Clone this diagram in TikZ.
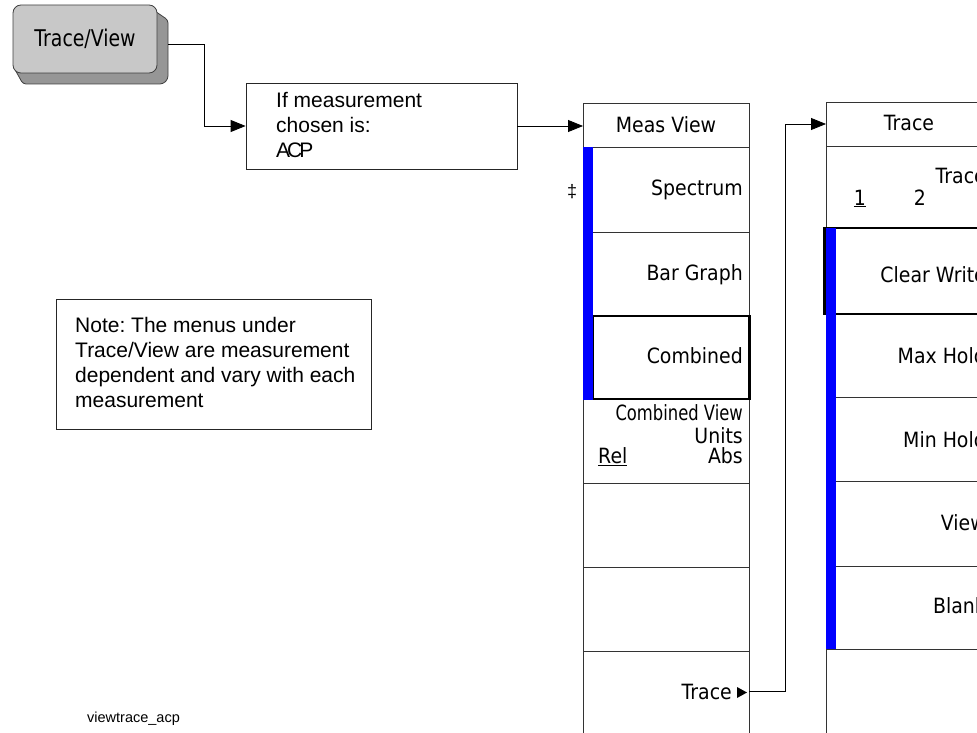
\documentclass[tikz,border=0pt]{standalone}
\usepackage{fontspec}
\setmainfont{Liberation Sans}
\newfontfamily\keyfont[FakeStretch=0.9]{DejaVu Sans}
\newfontfamily\keyfontc[FakeStretch=0.78]{DejaVu Sans}
\newfontfamily\keyfontb[FakeStretch=0.82]{DejaVu Sans}
\usetikzlibrary{arrows.meta}
\definecolor{btnface}{RGB}{200,200,200}
\definecolor{btnshade}{RGB}{150,150,150}
\definecolor{selblue}{RGB}{0,0,255}
\frenchspacing
\begin{document}
\begin{tikzpicture}[x=1pt,y=-1pt,
  cell/.style={draw=black!80, line width=0.8pt, minimum width=166pt, inner sep=0pt, outer sep=0pt},
  key/.style={font={\keyfont\fontsize{21}{25}\selectfont}, inner sep=0pt},
  keyc/.style={font={\keyfontc\fontsize{21}{25}\selectfont}, inner sep=0pt},
  arial/.style={font={\fontsize{21}{25.3}\selectfont}, inner sep=0pt},
  conn/.style={draw=black, line width=0.8pt, -{Triangle[length=15pt,width=12pt]}},
  selbox/.style={draw=black, line width=2.2pt},
  btn/.style={draw=black!75, line width=0.8pt, fill=btnface, rounded corners=8pt,
    minimum width=144pt, minimum height=68pt, inner sep=0pt,
    font={\keyfontb\fontsize{23}{27}\selectfont}},
  plainbox/.style={draw=black!85, line width=0.8pt, inner sep=0pt}
]
\useasboundingbox (0,0) rectangle (977,733);
\clip (0,0) rectangle (977,733);

% hardkey button
\filldraw[fill=btnshade, draw=black!75, line width=0.8pt, rounded corners=3pt]
  (146,5) -- (168,20) -- (168,79) -- (163,84) -- (23,84) -- (13,66) -- cycle;
\node[btn] (tv) at (85,39) {Trace/View};
\coordinate (tvout) at (168,44);

% condition box
\node[plainbox, minimum width=271pt, minimum height=86pt] (ifbox) at (381.5,126) {};
\node[arial, anchor=north west, align=left] (iftxt) at (276,91.8)
  {If measurement\\chosen is:\\A\kern-3pt C\kern-3pt P};

% note box
\node[plainbox, minimum width=315pt, minimum height=130pt] (note) at (213.5,364) {};
\node[arial, anchor=north west, align=left, font={\fontsize{21}{25}\selectfont}] (notetxt) at (75,316.7)
  {Note: The menus under\\Trace/View are measurement\\dependent and vary with each\\measurement};

% Meas View menu
\node[cell, minimum height=44pt] (mvh) at (666,125) {};
\node[cell, minimum height=85pt] (mv1) at (666,189.5) {};
\node[cell, minimum height=84pt] (mv2) at (666,274) {};
\node[cell, minimum height=83pt] (mv3) at (666,357.5) {};
\node[cell, minimum height=84pt] (mv4) at (666,441) {};
\node[cell, minimum height=84pt] (mv5) at (666,525) {};
\node[cell, minimum height=84pt] (mv6) at (666,609) {};
\node[cell, minimum height=94pt] (mv7) at (666,698) {};
\draw[selbox] (592.5,316) rectangle (749.5,399);
\fill[selblue] (583,147) rectangle (593,400);

\node[key, anchor=base] (mvht) at (666,132) {Meas View};
\node[key, anchor=base east] (mv1t) at (743,195) {Spectrum};
\node[key, anchor=base east] (mv2t) at (743,280) {Bar Graph};
\node[key, anchor=base east] (mv3t) at (743,363) {Combined};
\node[keyc, anchor=base east] (mv4a) at (743,420) {Combined View};
\node[key, anchor=base east] (mv4b) at (743,443) {Units};
\node[key, anchor=base west] (mv4c) at (598,463) {\underline{Rel}};
\node[key, anchor=base east] (mv4d) at (743,463) {Abs};
\node[key, anchor=base east] (mvtr) at (732,699) {Trace};
\fill (737,687) -- (747,692.5) -- (737,698) -- cycle;
\node[font={\fontsize{18}{20}\selectfont}, inner sep=0pt, anchor=base] (dag) at (572,197) {‡};

% Trace menu
\node[cell, minimum height=44pt] (tvh) at (909,124) {};
\node[cell, minimum height=82pt] (tr1) at (909,187) {};
\node[cell, minimum height=86pt] (tr2) at (909,271) {};
\node[cell, minimum height=83pt] (tr3) at (909,355.5) {};
\node[cell, minimum height=84pt] (tr4) at (909,439) {};
\node[cell, minimum height=85pt] (tr5) at (909,523.5) {};
\node[cell, minimum height=83pt] (tr6) at (909,607.5) {};
\node[cell, minimum height=96pt] (tr7) at (909,697) {};
\draw[selbox] (824.5,228) rectangle (995,314);
\fill[selblue] (826,228) rectangle (836,649);

\node[key, anchor=base] (tvht) at (909,131) {Trace};
\node[key, anchor=base east] (tr1a) at (986,183) {Trace};
\node[key, anchor=base] (tr1b) at (860,205) {\underline{1}};
\node[key, anchor=base] (tr1c) at (920,205) {2};
\node[key, anchor=base east] (tr2t) at (986,282) {Clear Write};
\node[key, anchor=base east] (tr3t) at (986,363) {Max Hold};
\node[key, anchor=base east] (tr4t) at (986,447) {Min Hold};
\node[key, anchor=base east] (tr5t) at (986,530) {View};
\node[key, anchor=base east] (tr6t) at (986,613) {Blank};

% connectors
\draw[conn] (tvout) -| ([xshift=-41pt]ifbox.west) -- (ifbox.west);
\draw[conn] (ifbox.east) -- (ifbox.east -| mvh.west);
\draw[conn] (mv7.east |- mvtr.east) -| ([xshift=-41pt]tvh.west) -- (tvh.west);

% figure label
\node[font={\fontsize{14.5}{16}\selectfont}, inner sep=0pt, anchor=base west] (lbl) at (87,722) {viewtrace\_acp};
\end{tikzpicture}
\end{document}
